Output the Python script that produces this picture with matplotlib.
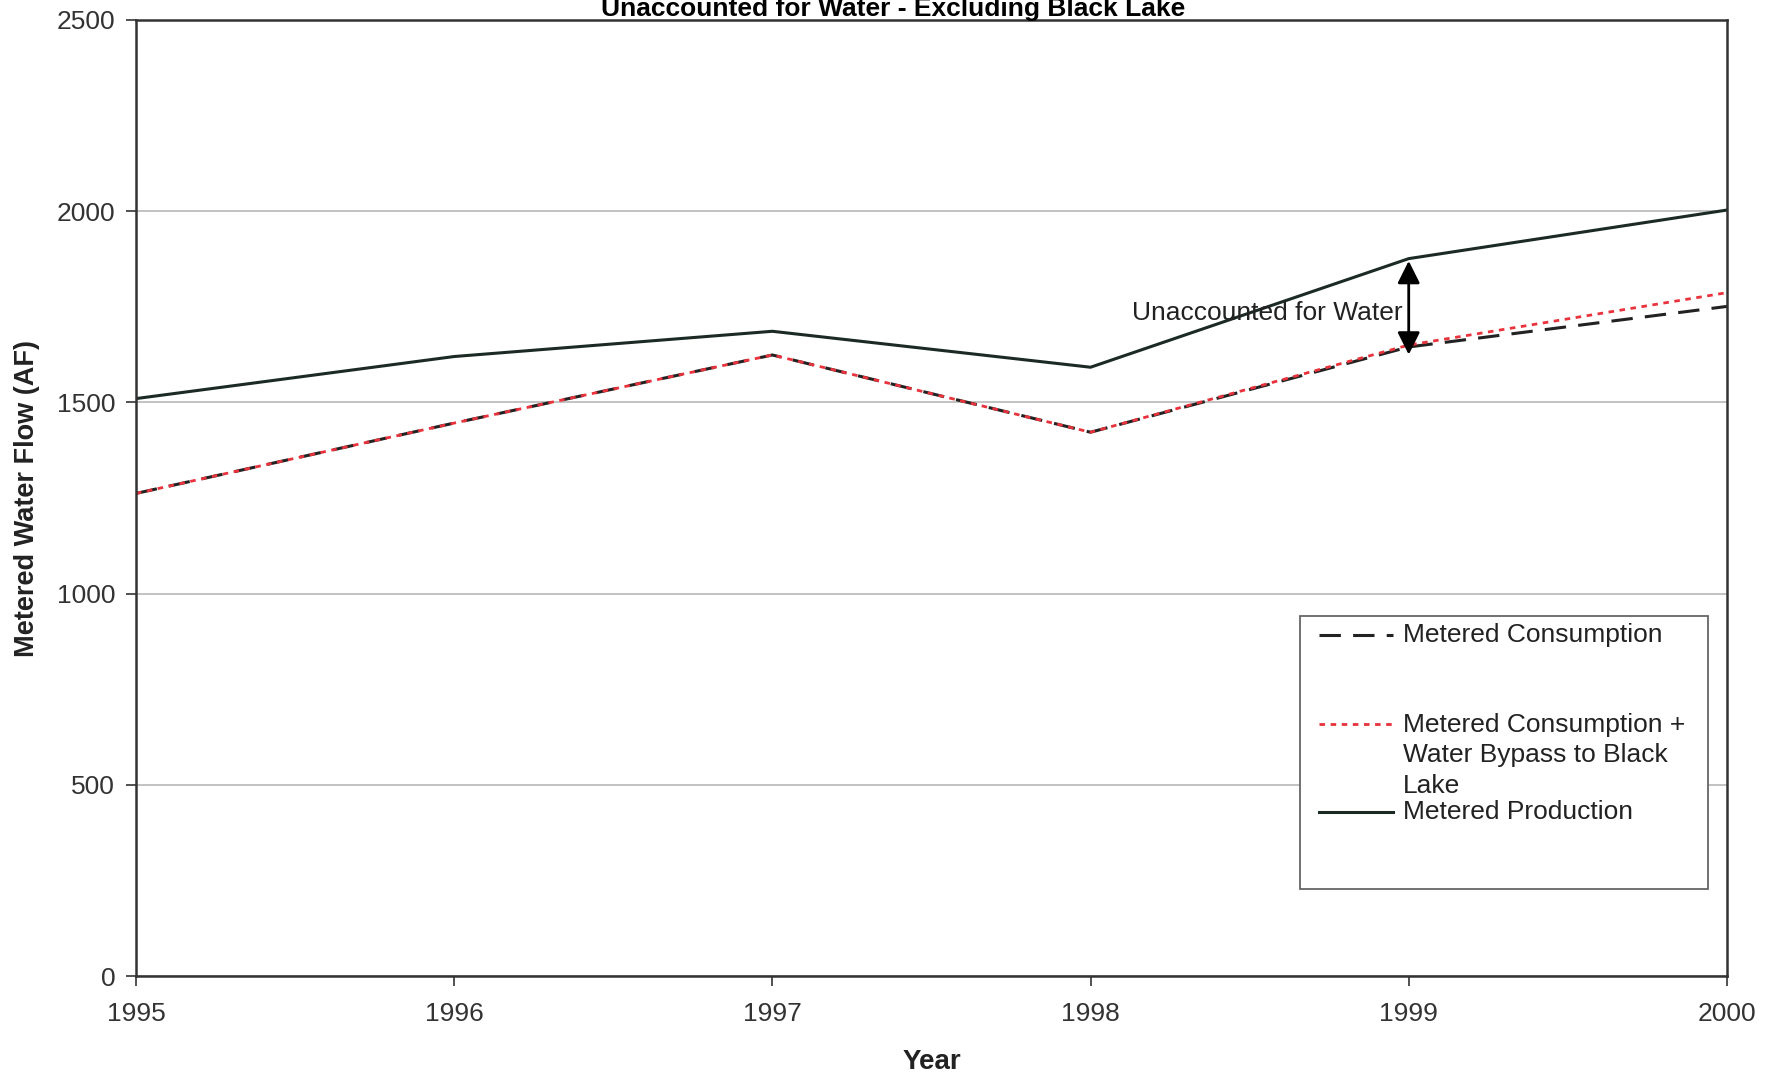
import matplotlib.pyplot as plt
from matplotlib.patches import Rectangle
from matplotlib.lines import Line2D

plt.rcParams['font.family'] = ['Liberation Sans', 'DejaVu Sans']

# valores
years = [1995, 1996, 1997, 1998, 1999, 2000]
production = [1510, 1620, 1686, 1592, 1876, 2003]
consumption = [1262, 1446, 1624, 1422, 1645, 1751]
consumption_bypass = [1262, 1446, 1624, 1422, 1650, 1787]

arrow_low = 1625
arrow_high = 1870

fig = plt.figure(figsize=(17.73, 10.81), dpi=100)
ax = fig.add_axes([0.0767, 0.0971, 0.8973, 0.8844])

ax.plot(years, production, color='#1c2a24', lw=2.2, solid_joinstyle='round')
ax.plot(years, consumption, color='#222222', lw=2.2, dashes=(7, 4))
ax.plot(years, consumption_bypass, color='#e8323c', lw=2.0, dashes=(2, 2))

ax.set_xlim(1995, 2000)
ax.set_ylim(0, 2500)
ax.set_xticks(years)
ax.set_yticks([0, 500, 1000, 1500, 2000, 2500])
ax.grid(axis='y', color='#b8b8b8', lw=1.2)
ax.set_axisbelow(True)
ax.tick_params(labelsize=19, colors='#333333', length=7, width=1.2)
ax.tick_params(axis='x', pad=12)
ax.tick_params(axis='y', pad=8)
for s in ax.spines.values():
    s.set_color('#333333')
    s.set_linewidth(1.8)

ax.set_xlabel('Year', fontsize=20, fontweight='bold', labelpad=16, color='#222222')
ax.set_ylabel('Metered Water Flow (AF)', fontsize=19.5, fontweight='bold', labelpad=12, color='#222222')

fig.text(893 / 1773, 1 - 16 / 1081, 'Unaccounted for Water - Excluding Black Lake',
         fontsize=19, fontweight='bold', ha='center', va='baseline')

# seta dupla
ax.annotate('', xy=(1999, arrow_high), xytext=(1999, arrow_low),
            arrowprops=dict(arrowstyle='<|-|>', color='black', lw=2,
                            mutation_scale=34, shrinkA=0, shrinkB=0))
ax.text(1998.98, 1735, 'Unaccounted for Water', fontsize=19, ha='right', va='center',
        color='#222222')

# legenda desenhada a mao, estilo Excel
ax.add_patch(Rectangle((0.7316, 0.091), 0.2564, 0.2856, transform=ax.transAxes,
                       facecolor='white', edgecolor='#666666', lw=1.3, zorder=5))
ax.add_line(Line2D([0.7436, 0.7901], [0.3567, 0.3567], transform=ax.transAxes,
                   color='#222222', lw=2.2, dashes=(7, 4), zorder=6))
ax.add_line(Line2D([0.7436, 0.7901], [0.2636, 0.2636], transform=ax.transAxes,
                   color='#e8323c', lw=2.0, dashes=(2, 2), zorder=6))
ax.add_line(Line2D([0.7436, 0.7901], [0.1715, 0.1715], transform=ax.transAxes,
                   color='#1c2a24', lw=2.2, zorder=6))
ax.text(0.7964, 0.3567, 'Metered Consumption', transform=ax.transAxes,
        fontsize=19, va='center', color='#222222', zorder=7)
ax.text(0.7964, 0.2636 + 0.012, 'Metered Consumption +\nWater Bypass to Black\nLake',
        transform=ax.transAxes, fontsize=19, va='top', color='#222222',
        linespacing=1.36, zorder=7)
ax.text(0.7964, 0.1715, 'Metered Production', transform=ax.transAxes,
        fontsize=19, va='center', color='#222222', zorder=7)

fig.savefig('out.png', dpi=100)
